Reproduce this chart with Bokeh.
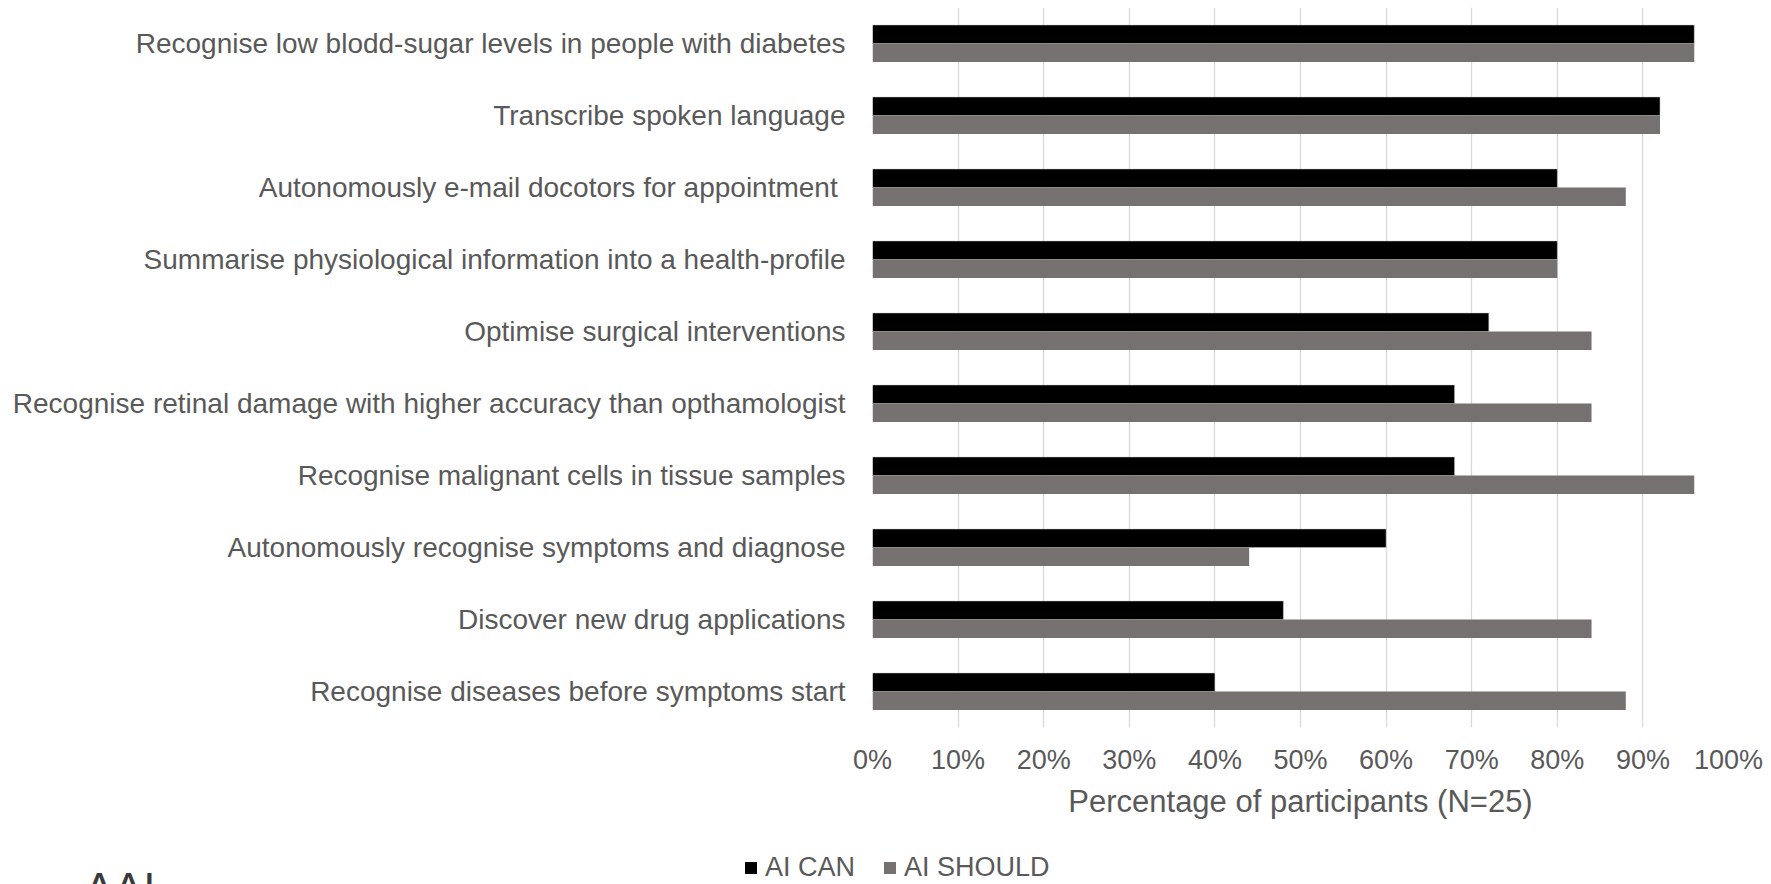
from bokeh.plotting import figure
from bokeh.layouts import column
from bokeh.models import (ColumnDataSource, FactorRange, Range1d, NumeralTickFormatter,
                          FixedTicker, Legend, LegendItem, Label)
from bokeh.transform import dodge
from bokeh.embed import file_html
from bokeh.resources import INLINE

# Tasks, listed top to bottom as shown
tasks = [
    "Recognise low blodd-sugar levels in people with diabetes",
    "Transcribe spoken language",
    "Autonomously e-mail docotors for appointment ",
    "Summarise physiological information into a health-profile",
    "Optimise surgical interventions",
    "Recognise retinal damage with higher accuracy than opthamologist",
    "Recognise malignant cells in tissue samples",
    "Autonomously recognise symptoms and diagnose",
    "Discover new drug applications",
    "Recognise diseases before symptoms start",
]
ai_can = [0.96, 0.92, 0.80, 0.80, 0.72, 0.68, 0.68, 0.60, 0.48, 0.40]
ai_should = [0.96, 0.92, 0.88, 0.80, 0.84, 0.84, 0.96, 0.44, 0.84, 0.88]
x_ticks = [0.0, 0.1, 0.2, 0.3, 0.4, 0.5, 0.6, 0.7, 0.8, 0.9, 1.0]

TEXT = "#595959"
FONT = "Liberation Sans"
CAN_COLOR = "#000000"
SHOULD_COLOR = "#767171"

src = ColumnDataSource(dict(task=tasks, idx=list(range(len(tasks))),
                            can=ai_can, should=ai_should))

# ---- main chart ----
p = figure(
    width=1771, height=834,
    y_range=FactorRange(factors=list(reversed(tasks))),
    x_range=Range1d(0, 1),
    output_backend="svg", toolbar_location=None,
    min_border_left=872, min_border_right=43,
    min_border_top=7, min_border_bottom=107,
)
p.frame_align = False
p.outline_line_color = None
p.background_fill_color = "white"
p.border_fill_color = "white"

bar_h = 0.257
p.hbar(y=dodge("task", bar_h / 2, range=p.y_range), right="can", left=0,
       height=bar_h, source=src, fill_color=CAN_COLOR,
       line_color="#cfcfcf", line_width=0.8, line_alpha=0.6)
p.hbar(y=dodge("task", -bar_h / 2, range=p.y_range), right="should", left=0,
       height=bar_h, source=src, fill_color=SHOULD_COLOR, line_color=None)

# grid
p.ygrid.grid_line_color = None
p.xgrid.grid_line_color = "#d9d9d9"
p.xgrid.grid_line_width = 1.3
p.xgrid.ticker = FixedTicker(ticks=x_ticks)

# x axis
xa = p.xaxis[0]
xa.ticker = FixedTicker(ticks=x_ticks)
xa.formatter = NumeralTickFormatter(format="0%")
xa.axis_line_color = None
xa.major_tick_line_color = None
xa.minor_tick_line_color = None
xa.major_label_standoff = 11
xa.major_label_text_font = FONT
xa.major_label_text_font_size = "27px"
xa.major_label_text_color = TEXT
xa.axis_label = "Percentage of participants (N=25)"
xa.axis_label_text_font = FONT
xa.axis_label_text_font_size = "31px"
xa.axis_label_text_font_style = "normal"
xa.axis_label_text_color = TEXT
xa.axis_label_standoff = 6

# y axis
ya = p.yaxis[0]
ya.axis_line_color = None
ya.major_tick_line_color = None
ya.minor_tick_line_color = None
ya.major_label_standoff = 21
ya.major_label_text_font = FONT
ya.major_label_text_font_size = "28px"
ya.major_label_text_color = TEXT

# ---- legend strip along the bottom ----
strip = figure(
    width=1771, height=50,
    x_range=Range1d(0, 1771), y_range=Range1d(0, 50),
    x_axis_type=None, y_axis_type=None,
    output_backend="svg", toolbar_location=None,
    min_border=0,
)
strip.frame_align = False
strip.outline_line_color = None
strip.grid.grid_line_color = None
strip.background_fill_color = "white"
strip.border_fill_color = "white"

# series swatches for the legend (the bars themselves are drawn above)
k_can = strip.hbar(y="idx", right="can", left=0, height=0.5, source=src,
                   fill_color=CAN_COLOR, line_color=None, visible=False)
k_should = strip.hbar(y="idx", right="should", left=0, height=0.5, source=src,
                      fill_color=SHOULD_COLOR, line_color=None, visible=False)

legend = Legend(
    items=[LegendItem(label="AI CAN", renderers=[k_can]),
           LegendItem(label="AI SHOULD", renderers=[k_should])],
    orientation="horizontal",
    location=(743, 1),
    glyph_width=15, glyph_height=15,
    label_standoff=7, spacing=27,
    padding=0, margin=0,
    border_line_color=None, background_fill_alpha=0,
    label_text_font=FONT, label_text_font_size="27px",
    label_text_color=TEXT,
)
strip.add_layout(legend, "center")

# logo fragment at lower left, running off the bottom edge
logo = Label(x=84, y=-4, text="AAI", text_font=FONT, text_font_size="44px",
             text_color="#3a3a3a", text_baseline="alphabetic")
strip.add_layout(logo)

open("out.html", "w").write(file_html(column(p, strip, spacing=0), INLINE))
